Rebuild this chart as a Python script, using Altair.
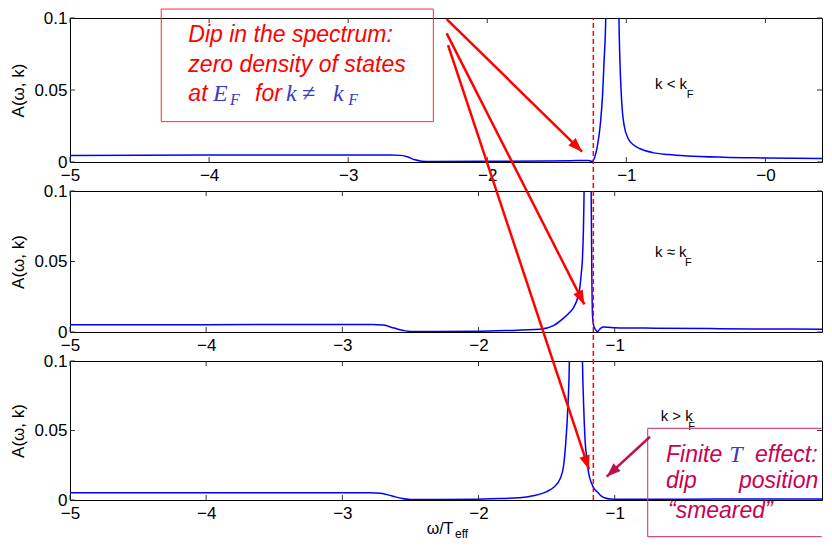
import math
import altair as alt
import pandas as pd

# ---------------- data ----------------
# panel 1 : k < k_F
p1_w = [-5.0, -4.0, -3.0, -2.7, -2.62, -2.57, -2.52, -2.47, -2.4, -2.0, -1.6, -1.4, -1.3,
        -1.27, -1.245, -1.225, -1.2, -1.185, -1.17, -1.16, -1.148, -1.10, -1.053, -1.035,
        -1.015, -0.985, -0.95, -0.90, -0.81, -0.7, -0.56, -0.3, 0.0, 0.45]
p1_A = [0.0046, 0.0048, 0.0049, 0.0049, 0.0046, 0.0035, 0.0015, 0.0006, 0.0004, 0.0005,
        0.0007, 0.0009, 0.0011, 0.0010, 0.0005, 0.0040, 0.016, 0.028, 0.048, 0.070, 0.100,
        0.9, 0.100, 0.045, 0.025, 0.016, 0.012, 0.0092, 0.0065, 0.0052, 0.0042, 0.0033,
        0.0028, 0.0023]
# panel 2 : k ~ k_F
p2_w = [-5.0, -4.0, -3.0, -2.78, -2.70, -2.62, -2.55, -2.5, -2.3, -2.0, -1.8, -1.55, -1.45,
        -1.38, -1.33, -1.30, -1.27, -1.257, -1.245, -1.237, -1.225, -1.20, -1.173, -1.168,
        -1.163, -1.155, -1.14, -1.125, -1.11, -1.085, -1.05, -1.0, -0.7, -0.3, 0.0, 0.566]
p2_A = [0.0052, 0.0052, 0.0053, 0.0053, 0.0049, 0.0028, 0.0010, 0.0004, 0.0004, 0.0006,
        0.0010, 0.0019, 0.0045, 0.0095, 0.0140, 0.0177, 0.025, 0.031, 0.042, 0.052, 0.100,
        0.9, 0.100, 0.040, 0.0118, 0.0047, 0.0015, 0.0004, 0.0020, 0.0035, 0.0034, 0.0031,
        0.0027, 0.0024, 0.0022, 0.0020]
# panel 3 : k > k_F
p3_w = [-5.0, -4.0, -3.0, -2.8, -2.72, -2.64, -2.56, -2.5, -2.3, -2.0, -1.85, -1.7, -1.6,
        -1.5, -1.45, -1.40, -1.375, -1.359, -1.345, -1.333, -1.285, -1.237, -1.227, -1.217,
        -1.205, -1.193, -1.17, -1.15, -1.13, -1.10, -1.07, -1.034, -1.0, -0.5, 0.0, 0.566]
p3_A = [0.0052, 0.0053, 0.0053, 0.0053, 0.0049, 0.0030, 0.0010, 0.0004, 0.0004, 0.0006,
        0.0010, 0.0016, 0.0030, 0.0060, 0.0090, 0.0155, 0.025, 0.042, 0.065, 0.100, 0.9,
        0.100, 0.065, 0.042, 0.030, 0.0203, 0.012, 0.0080, 0.0060, 0.0030, 0.0014, 0.0007,
        0.0006, 0.0006, 0.0007, 0.0008]

x_ticks_top = [-5, -4, -3, -2, -1, 0]
x_ticks_low = [-5, -4, -3, -2, -1]
y_ticks = [0, 0.05, 0.1]

k_text = ["k < k", "k ≈ k", "k > k"]
k_x = [-0.7938, -0.704, -0.6624]
k_y = [0.0507, 0.0532, 0.0568]
k_sub_x = [-0.5659, -0.484, -0.4596]
k_sub_y = [0.0444, 0.0468, 0.0506]

# annotations (in the coordinates of the bottom panel)
dip_x = [-1.157]
dip_y = [0.0]
dip_y2 = [0.347]

box1_x = [-4.330]
box1_x2 = [-2.332]
box1_y = [0.2722]
box1_y2 = [0.3532]

arrow_x = [-2.234, -2.234, -2.224]
arrow_y = [0.3460, 0.3357, 0.3273]
arrow_tip_x = [-1.240, -1.223, -1.189]
arrow_tip_y = [0.2506, 0.1407, 0.0220]

# finite-T box: top, bottom and left edges (right edge lies past the picture)
box2_x = [-0.758, -0.758, -0.758]
box2_x2 = [0.52, 0.52, -0.758]
box2_y = [0.0515, -0.0264, -0.0264]
box2_y2 = [0.0515, -0.0264, 0.0515]

arrow2_x = [-0.741]
arrow2_y = [0.0455]
arrow2_tip_x = [-1.059]
arrow2_tip_y = [0.0168]

red_text = ["Dip in the spectrum:", "zero density of states", "at", "for"]
red_x = [-4.131, -4.131, -4.131, -3.6415]
red_y = [0.3297, 0.3081, 0.2871, 0.2871]
blue_text = ["E", "k", "≠", "k", "T"]
blue_x = [-3.950, -3.414, -3.296, -3.069, -0.1586]
blue_y = [0.2871, 0.2871, 0.2871, 0.2871, 0.02755]
blue_sub_text = ["F", "F"]
blue_sub_x = [-3.825, -2.956]
blue_sub_y = [0.2845, 0.2845]
pink_text = ["Finite", "effect:", "dip", "“smeared”"]
pink_x = [-0.6235, 0.0301, -0.6235, -0.609]
pink_y = [0.02755, 0.02755, 0.00835, -0.01324]
pink_right_text = ["position"]
pink_right_x = [0.495]
pink_right_y = [0.00835]

xtitle_text = ["ω/T"]
xtitle_x = [-2.381]
xtitle_y = [-0.0242]
xtitle_sub_text = ["eff"]
xtitle_sub_x = [-2.173]
xtitle_sub_y = [-0.0270]

# ---------------- layout / style ----------------
W = 752
H = [144, 141, 139]
PX1 = 139.08       # pixels per unit along x, top panel
PX23 = 136.18      # pixels per unit along x, lower panels
X1_DOM = [-5, -5 + W / PX1]
X23_DOM = [-5, -5 + W / PX23]
Y_DOM = [0, 0.1]
SANS = "Liberation Sans"
SERIF = "Liberation Serif"
BLUE = "#0000ff"
RED = "#ff0000"
PINK_TXT = "#cc0050"
PINK_BOX = "#d2507a"
MATH_BLUE = "#3a3ac4"


def xenc(dom, field="w", axis=None):
    sc = alt.Scale(domain=dom, nice=False, zero=False)
    if axis is None:
        return alt.X(f"{field}:Q", scale=sc)
    return alt.X(f"{field}:Q", scale=sc, axis=axis)


def yenc(field="A", axis=None):
    sc = alt.Scale(domain=Y_DOM, nice=False, zero=False)
    if axis is None:
        return alt.Y(f"{field}:Q", scale=sc)
    return alt.Y(f"{field}:Q", scale=sc, axis=axis)


def text_layer(texts, xs, ys, dom, font, size, color, style="normal", align="left"):
    df = pd.DataFrame({"w": xs, "A": ys, "t": texts})
    return alt.Chart(df).mark_text(
        align=align, baseline="alphabetic", font=font, fontSize=size,
        fontStyle=style, color=color, clip=False
    ).encode(x=xenc(dom), y=yenc(), text=alt.Text("t:N"))


def make_panel(i, w, a, dom, xticks, extra=()):
    h = H[i]
    xaxis = alt.Axis(values=xticks, format="~g",
                     labelExpr="datum.value === 0 ? '−0' : datum.label",
                     ticks=False, tickSize=0, domain=False, grid=False, title=None,
                     labelFont=SANS, labelFontSize=17, labelPadding=5, labelFlush=False,
                     labelColor="black")
    yaxis = alt.Axis(values=y_ticks, format="~g", ticks=False, tickSize=0, domain=False,
                     grid=False, title="A(ω, k)", titleFont=SANS, titleFontSize=17,
                     titleFontWeight="normal", titleColor="black", titlePadding=6,
                     labelFont=SANS, labelFontSize=17, labelPadding=3, labelFlush=False,
                     labelColor="black")
    line = alt.Chart(pd.DataFrame({"w": w, "A": a})).mark_line(
        color=BLUE, strokeWidth=1.5, clip=True, interpolate="monotone"
    ).encode(x=xenc(dom, axis=xaxis), y=yenc(axis=yaxis))

    xt = pd.DataFrame({"w": xticks})
    yt = pd.DataFrame({"A": y_ticks})
    tick_b = alt.Chart(xt).mark_rule(color="#333333", strokeWidth=1).encode(
        x=xenc(dom), y=alt.value(h), y2=alt.value(h - 5))
    tick_t = alt.Chart(xt).mark_rule(color="#333333", strokeWidth=1).encode(
        x=xenc(dom), y=alt.value(0), y2=alt.value(5))
    tick_l = alt.Chart(yt).mark_rule(color="#333333", strokeWidth=1).encode(
        y=yenc(), x=alt.value(0), x2=alt.value(5))
    tick_r = alt.Chart(yt).mark_rule(color="#333333", strokeWidth=1).encode(
        y=yenc(), x=alt.value(W), x2=alt.value(W - 5))

    klab = text_layer([k_text[i]], [k_x[i]], [k_y[i]], dom, SANS, 15, "black")
    ksub = text_layer(["F"], [k_sub_x[i]], [k_sub_y[i]], dom, SANS, 11, "black")
    return alt.layer(line, tick_b, tick_t, tick_l, tick_r, klab, ksub, *extra).properties(
        width=W, height=h)


# ---- annotations drawn in the bottom panel (on top of everything) ----
kx = W / (X23_DOM[1] - X23_DOM[0])
ky = H[2] / (Y_DOM[1] - Y_DOM[0])


def arrow_angles(x0, y0, x1, y1):
    out = []
    for a, b, c, d in zip(x0, y0, x1, y1):
        sx = (c - a) * kx
        sy = -(d - b) * ky
        out.append(math.degrees(math.atan2(sx, -sy)) % 360)
    return out


HEAD = "M0,0L-0.75,2L0.75,2Z"

dashed = alt.Chart(pd.DataFrame({"w": dip_x, "A": dip_y, "A2": dip_y2})).mark_rule(
    color=RED, strokeWidth=1.5, strokeDash=[5, 3], clip=False
).encode(x=xenc(X23_DOM), y=yenc(), y2="A2:Q")

box1 = alt.Chart(pd.DataFrame({"w": box1_x, "w2": box1_x2, "A": box1_y, "A2": box1_y2})).mark_rect(
    filled=False, color="#ff2a2a", strokeWidth=1, clip=False
).encode(x=xenc(X23_DOM), x2="w2:Q", y=yenc(), y2="A2:Q")

box2 = alt.Chart(pd.DataFrame({"w": box2_x, "w2": box2_x2, "A": box2_y, "A2": box2_y2})).mark_rule(
    color=PINK_BOX, strokeWidth=1.2, clip=False
).encode(x=xenc(X23_DOM), x2="w2:Q", y=yenc(), y2="A2:Q")

arr_df = pd.DataFrame({"w": arrow_x, "A": arrow_y, "w2": arrow_tip_x, "A2": arrow_tip_y})
arrows = alt.Chart(arr_df).mark_rule(color=RED, strokeWidth=2.5, clip=False).encode(
    x=xenc(X23_DOM), y=yenc(), x2="w2:Q", y2="A2:Q")
heads_df = pd.DataFrame({"w": arrow_tip_x, "A": arrow_tip_y,
                         "ang": arrow_angles(arrow_x, arrow_y, arrow_tip_x, arrow_tip_y)})
heads = alt.Chart(heads_df).mark_point(
    shape=HEAD, filled=True, size=196, color=RED, opacity=1, strokeWidth=0, clip=False
).encode(x=xenc(X23_DOM), y=yenc(), angle=alt.Angle("ang:Q", scale=None))

arr2_df = pd.DataFrame({"w": arrow2_x, "A": arrow2_y, "w2": arrow2_tip_x, "A2": arrow2_tip_y})
arrow2 = alt.Chart(arr2_df).mark_rule(color="#c0104c", strokeWidth=2.5, clip=False).encode(
    x=xenc(X23_DOM), y=yenc(), x2="w2:Q", y2="A2:Q")
heads2_df = pd.DataFrame({"w": arrow2_tip_x, "A": arrow2_tip_y,
                          "ang": arrow_angles(arrow2_x, arrow2_y, arrow2_tip_x, arrow2_tip_y)})
head2 = alt.Chart(heads2_df).mark_point(
    shape=HEAD, filled=True, size=196, color="#c0104c", opacity=1, strokeWidth=0, clip=False
).encode(x=xenc(X23_DOM), y=yenc(), angle=alt.Angle("ang:Q", scale=None))

ann = [
    box1, box2, dashed, arrows, heads, arrow2, head2,
    text_layer(red_text, red_x, red_y, X23_DOM, SANS, 23, RED, "italic"),
    text_layer(blue_text, blue_x, blue_y, X23_DOM, SERIF, 24, MATH_BLUE, "italic"),
    text_layer(blue_sub_text, blue_sub_x, blue_sub_y, X23_DOM, SERIF, 16, MATH_BLUE, "italic"),
    text_layer(pink_text, pink_x, pink_y, X23_DOM, SANS, 23, PINK_TXT, "italic"),
    text_layer(pink_right_text, pink_right_x, pink_right_y, X23_DOM, SANS, 23, PINK_TXT,
               "italic", align="right"),
    text_layer(xtitle_text, xtitle_x, xtitle_y, X23_DOM, SANS, 16, "black"),
    text_layer(xtitle_sub_text, xtitle_sub_x, xtitle_sub_y, X23_DOM, SANS, 12, "black"),
]

p1 = make_panel(0, p1_w, p1_A, X1_DOM, x_ticks_top)
p2 = make_panel(1, p2_w, p2_A, X23_DOM, x_ticks_low)
p3 = make_panel(2, p3_w, p3_A, X23_DOM, x_ticks_low, extra=ann)

chart = alt.vconcat(p1, p2, p3, spacing=29, bounds="flush").properties(
    padding={"left": 1, "top": 0, "right": 0, "bottom": 0},
    background="white",
).configure_view(stroke="black", strokeWidth=1)

chart.save("out.html", embed_options={"renderer": "svg", "actions": False})
